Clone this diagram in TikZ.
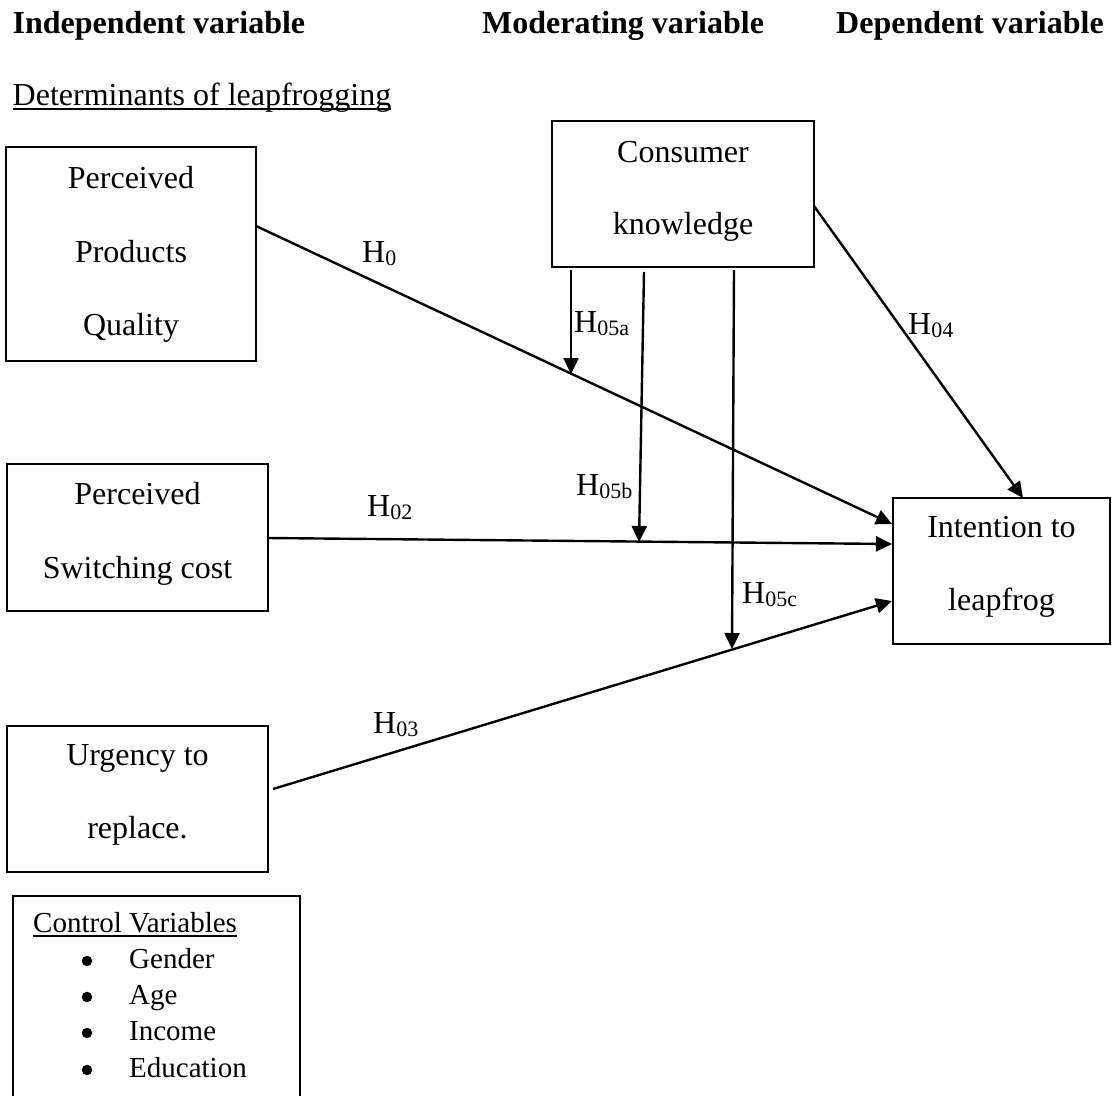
\documentclass[tikz,border=0pt]{standalone}
\usepackage{fontspec}
\setmainfont{Liberation Serif}
\usetikzlibrary{arrows.meta}
\newcommand\hsubscr[1]{\raisebox{-3.3pt}{\fontsize{22}{22}\selectfont #1}}
\begin{document}
\begin{tikzpicture}[x=1pt,y=-1pt,
  box/.style={draw, line width=1.8pt, inner sep=0pt},
  txt/.style={inner sep=0pt, anchor=base, font=\fontsize{32}{36}\selectfont},
  lbl/.style={inner sep=0pt, anchor=base west, font=\fontsize{32}{36}\selectfont},
  hdr/.style={inner sep=0pt, anchor=base west, font=\fontsize{32}{36}\selectfont\bfseries},
  smalltxt/.style={inner sep=0pt, anchor=base west, font=\fontsize{29}{33}\selectfont},
  bul/.style={circle, fill, inner sep=0pt, minimum size=10.5pt},
  link/.style={line width=2.4pt},
  arr/.style={link, -{Triangle[length=16pt,width=15pt]}},
  uline/.style={line width=1.5pt},
]
\useasboundingbox (0,0) rectangle (1116,1095);
\fill[white] (0,0) rectangle (1116,1095);

% headers
\node[hdr] (hind) at (12.5,33) {Independent variable};
\node[hdr] (hmod) at (482,33) {Moderating variable};
\node[hdr] (hdep) at (836,33) {Dependent variable};
\node[lbl] (det) at (12.5,105) {Determinants of leapfrogging};
\draw[uline] ([yshift=-4pt]det.base west) -- ([yshift=-4pt]det.base east);

% boxes
\node[box, minimum width=250pt, minimum height=214pt] (ppq) at (131,254) {};
\node[box, minimum width=262pt, minimum height=146pt] (ck) at (683,194) {};
\node[box, minimum width=261pt, minimum height=147pt] (psc) at (137.5,537.5) {};
\node[box, minimum width=261pt, minimum height=146pt] (urg) at (137.5,799) {};
\node[box, minimum width=217pt, minimum height=146pt] (int) at (1001.5,571) {};

% box texts
\node[txt] (ppq1) at (131,188) {Perceived};
\node[txt] (ppq2) at (131,262) {Products};
\node[txt] (ppq3) at (131,335) {Quality};
\node[txt] (ck1) at (683,162) {Consumer};
\node[txt] (ck2) at (683,234) {knowledge};
\node[txt] (psc1) at (137.5,504) {Perceived};
\node[txt] (psc2) at (137.5,578) {Switching cost};
\node[txt] (urg1) at (137.5,765) {Urgency to};
\node[txt] (urg2) at (137.5,838) {replace.};
\node[txt] (int1) at (1001.5,537) {Intention to};
\node[txt] (int2) at (1001.5,610) {leapfrog};

% control variables box (open at bottom)
\coordinate (cbl) at (13,1100);
\coordinate (ctl) at (13,896);
\coordinate (ctr) at (300,896);
\coordinate (cbr) at (300,1100);
\draw[box] (cbl) -- (ctl) -- (ctr) -- (cbr);
\node[smalltxt] (cv) at (33,932) {Control Variables};
\draw[uline] ([yshift=-4pt]cv.base west) -- ([yshift=-4pt]cv.base east);
\node[bul] (b1) at (87,961) {};
\node[bul] (b2) at (87,997) {};
\node[bul] (b3) at (87,1033) {};
\node[bul] (b4) at (87,1070) {};
\node[smalltxt] (c1) at (129,968) {Gender};
\node[smalltxt] (c2) at (129,1004) {Age};
\node[smalltxt] (c3) at (129,1040) {Income};
\node[smalltxt] (c4) at (129,1077) {Education};

% connector end points
\coordinate (p1) at (256,226);
\coordinate (i1) at (892,524);
\coordinate (p2) at (268,538);
\coordinate (i2) at (892,544);
\coordinate (p3) at (273,789);
\coordinate (i3) at (892,601);
\coordinate (k4) at (814,206);
\coordinate (i4) at (1023,498);
\coordinate (m1) at (571,270);
\coordinate (t1) at (571,374);
\coordinate (m2) at (644,272);
\coordinate (t2) at (639,542);
\coordinate (m3) at (734,270);
\coordinate (t3) at (732,649);

% main paths
\draw[arr] (p1) -- (i1);
\draw[arr] (p2) -- (i2);
\draw[arr] (p3) -- (i3);
\draw[arr] (k4) -- (i4);
% moderation paths
\draw[arr] (m1) -- (t1);
\draw[arr] (m2) -- (t2);
\draw[arr] (m3) -- (t3);

% hypothesis labels
\node[lbl] (h0) at (362,262) {H\hsubscr{0}};
\node[lbl] (h02) at (367,516) {H\hsubscr{02}};
\node[lbl] (h03) at (373,733) {H\hsubscr{03}};
\node[lbl] (h04) at (908,334) {H\hsubscr{04}};
\node[lbl] (h05a) at (574,332) {H\hsubscr{05a}};
\node[lbl] (h05b) at (576,495) {H\hsubscr{05b}};
\node[lbl] (h05c) at (742,603) {H\hsubscr{05c}};
\end{tikzpicture}
\end{document}
